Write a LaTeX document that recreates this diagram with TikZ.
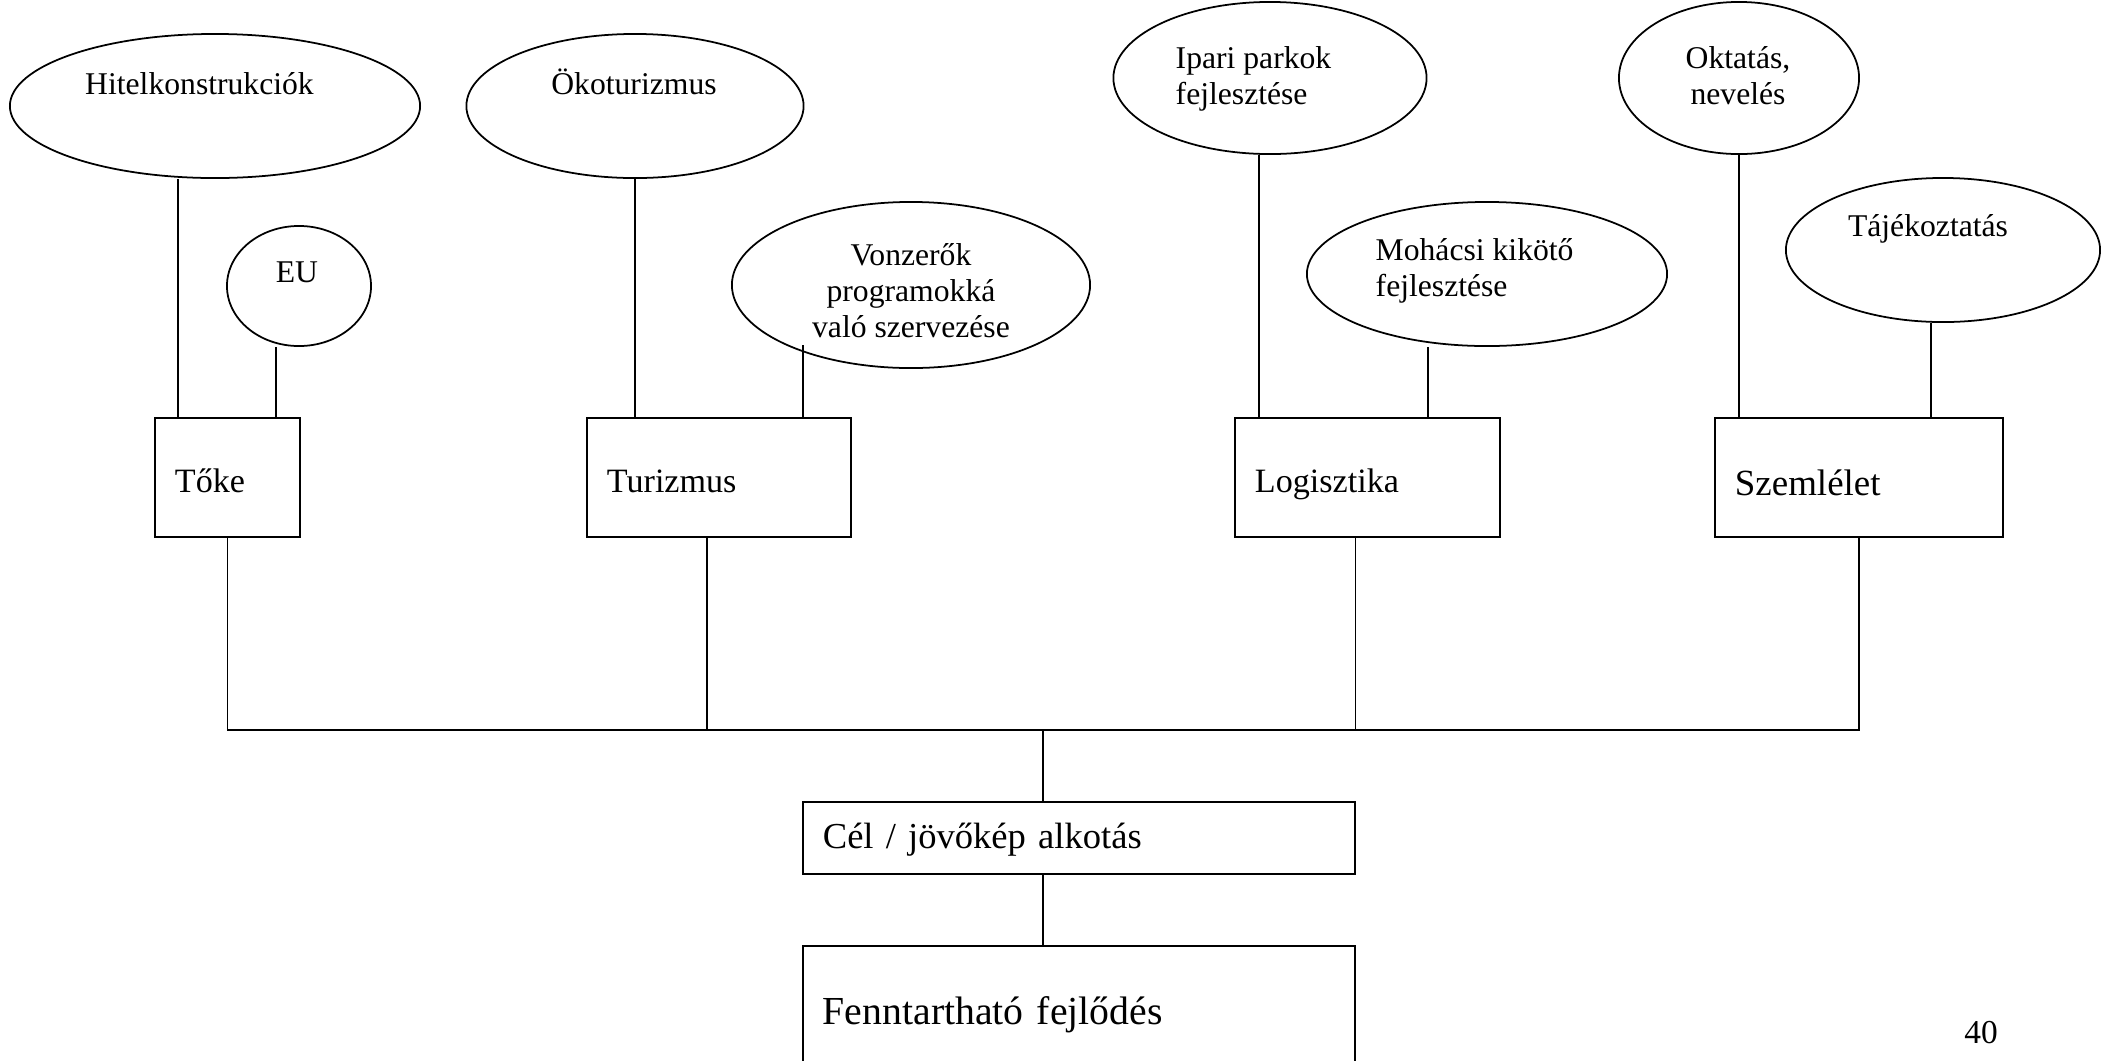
\documentclass[tikz,border=0pt]{standalone}
\usepackage{fontspec}
\setmainfont{Liberation Serif}
\usetikzlibrary{shapes.geometric,positioning}

\tikzset{
  oval/.style={ellipse, draw, line width=0.5pt, inner sep=0pt},
  doboz/.style={rectangle, draw, line width=0.5pt, inner xsep=0.2cm, inner ysep=0pt, align=left, minimum height=1.19cm, font=\fontsize{9.7}{11}\selectfont, text height=10pt, text depth=1.2pt},
  felirat/.style={inner sep=0pt, anchor=base, font=\fontsize{9}{10.2}\selectfont},
  vonal/.style={line width=0.5pt},
}

\begin{document}
\begin{tikzpicture}[x=0.01cm,y=-0.01cm]
\useasboundingbox (0,0) rectangle (2111,1060);
\clip (0,0) rectangle (2111,1060);
\node[oval, minimum width=4.1cm, minimum height=1.44cm] (hitel) at (215,106) {};
\node[oval, minimum width=3.37cm, minimum height=1.44cm] (oko) at (635,106) {};
\node[oval, minimum width=1.44cm, minimum height=1.2cm] (eu) at (299,286) {};
\node[oval, minimum width=3.58cm, minimum height=1.66cm] (vonz) at (911,285) {};
\node[oval, minimum width=3.13cm, minimum height=1.52cm] (ipari) at (1270,78) {};
\node[oval, minimum width=3.6cm, minimum height=1.44cm] (mohacs) at (1487,274) {};
\node[oval, minimum width=2.4cm, minimum height=1.52cm] (oktat) at (1739,78) {};
\node[oval, minimum width=3.14cm, minimum height=1.44cm] (tajek) at (1943,250) {};
\node[felirat] (hitel-t) at (199.5,94) {Hitelkonstrukciók};
\node[felirat] (oko-t) at (634,94) {Ökoturizmus};
\node[felirat] (eu-t) at (297,282) {EU};
\node[felirat, align=center] (vonz-t) at (911,337) {Vonzerők\\programokká\\való szervezése};
\node[felirat, align=left, anchor=base west] (ipari-t) at (1175,104) {Ipari parkok\\fejlesztése};
\node[felirat, align=left, anchor=base west] (mohacs-t) at (1375,296) {Mohácsi kikötő\\fejlesztése};
\node[felirat, align=center] (oktat-t) at (1738,104) {Oktatás,\\nevelés};
\node[felirat] (tajek-t) at (1928,236) {Tájékoztatás};
\node[doboz, text width=1.05cm] (toke) at (227.5,477.5) {Tőke};
\node[doboz, text width=2.24cm] (turiz) at (719,477.5) {Turizmus};
\node[doboz, text width=2.25cm] (logis) at (1367.5,477.5) {Logisztika};
\node[doboz, text width=2.48cm, font=\fontsize{10.5}{12}\selectfont, text height=11pt, text depth=1pt] (szeml) at (1859,477.5) {Szemlélet};
\node[doboz, text width=5.12cm, minimum height=0.72cm, font=\fontsize{10.4}{12}\selectfont, text height=8.5pt, text depth=2.8pt] (cel) at (1079,838) {Cél / jövőkép alkotás};
\node[doboz, text width=5.12cm, minimum height=1.34cm, font=\fontsize{11.3}{13}\selectfont, text height=9pt, text depth=2.2pt] (fennt) at (1079,1013) {Fenntartható fejlődés};
\node[felirat, font=\fontsize{9.5}{11}\selectfont] (oldal) at (1981,1043) {40};
\coordinate (busz) at (1043,730);
\coordinate (vz) at (803,345);
\path ([xshift=0.24cm]toke.north west) coordinate (t1) ([xshift=-0.25cm]toke.north east) coordinate (t2);
\path ([xshift=0.25cm]logis.north west) coordinate (l1) ([xshift=-0.73cm]logis.north east) coordinate (l2);
\path ([xshift=-0.12cm]tajek.south) coordinate (s2);
\path ([xshift=-0.12cm]turiz.south) coordinate (t3) ([xshift=-0.12cm]logis.south) coordinate (l3);
\draw[vonal] (t1) -- (t1 |- hitel.south);
\draw[vonal] (t2) -- (t2 |- eu.south);
\draw[vonal] (oko.south) -- (oko.south |- turiz.north);
\draw[vonal] (vz) -- (vz |- turiz.north);
\draw[vonal] (l1) -- (l1 |- ipari.south);
\draw[vonal] (l2) -- (l2 |- mohacs.south);
\draw[vonal] (oktat.south) -- (oktat.south |- szeml.north);
\draw[vonal] (s2) -- (s2 |- szeml.north);
\draw[vonal] (toke.south) |- (busz) -| (szeml.south);
\draw[vonal] (t3) -- (t3 |- busz);
\draw[vonal] (l3) -- (l3 |- busz);
\draw[vonal] (busz) -- (busz |- cel.north);
\draw[vonal] (busz |- cel.south) -- (busz |- fennt.north);
\end{tikzpicture}
\end{document}
